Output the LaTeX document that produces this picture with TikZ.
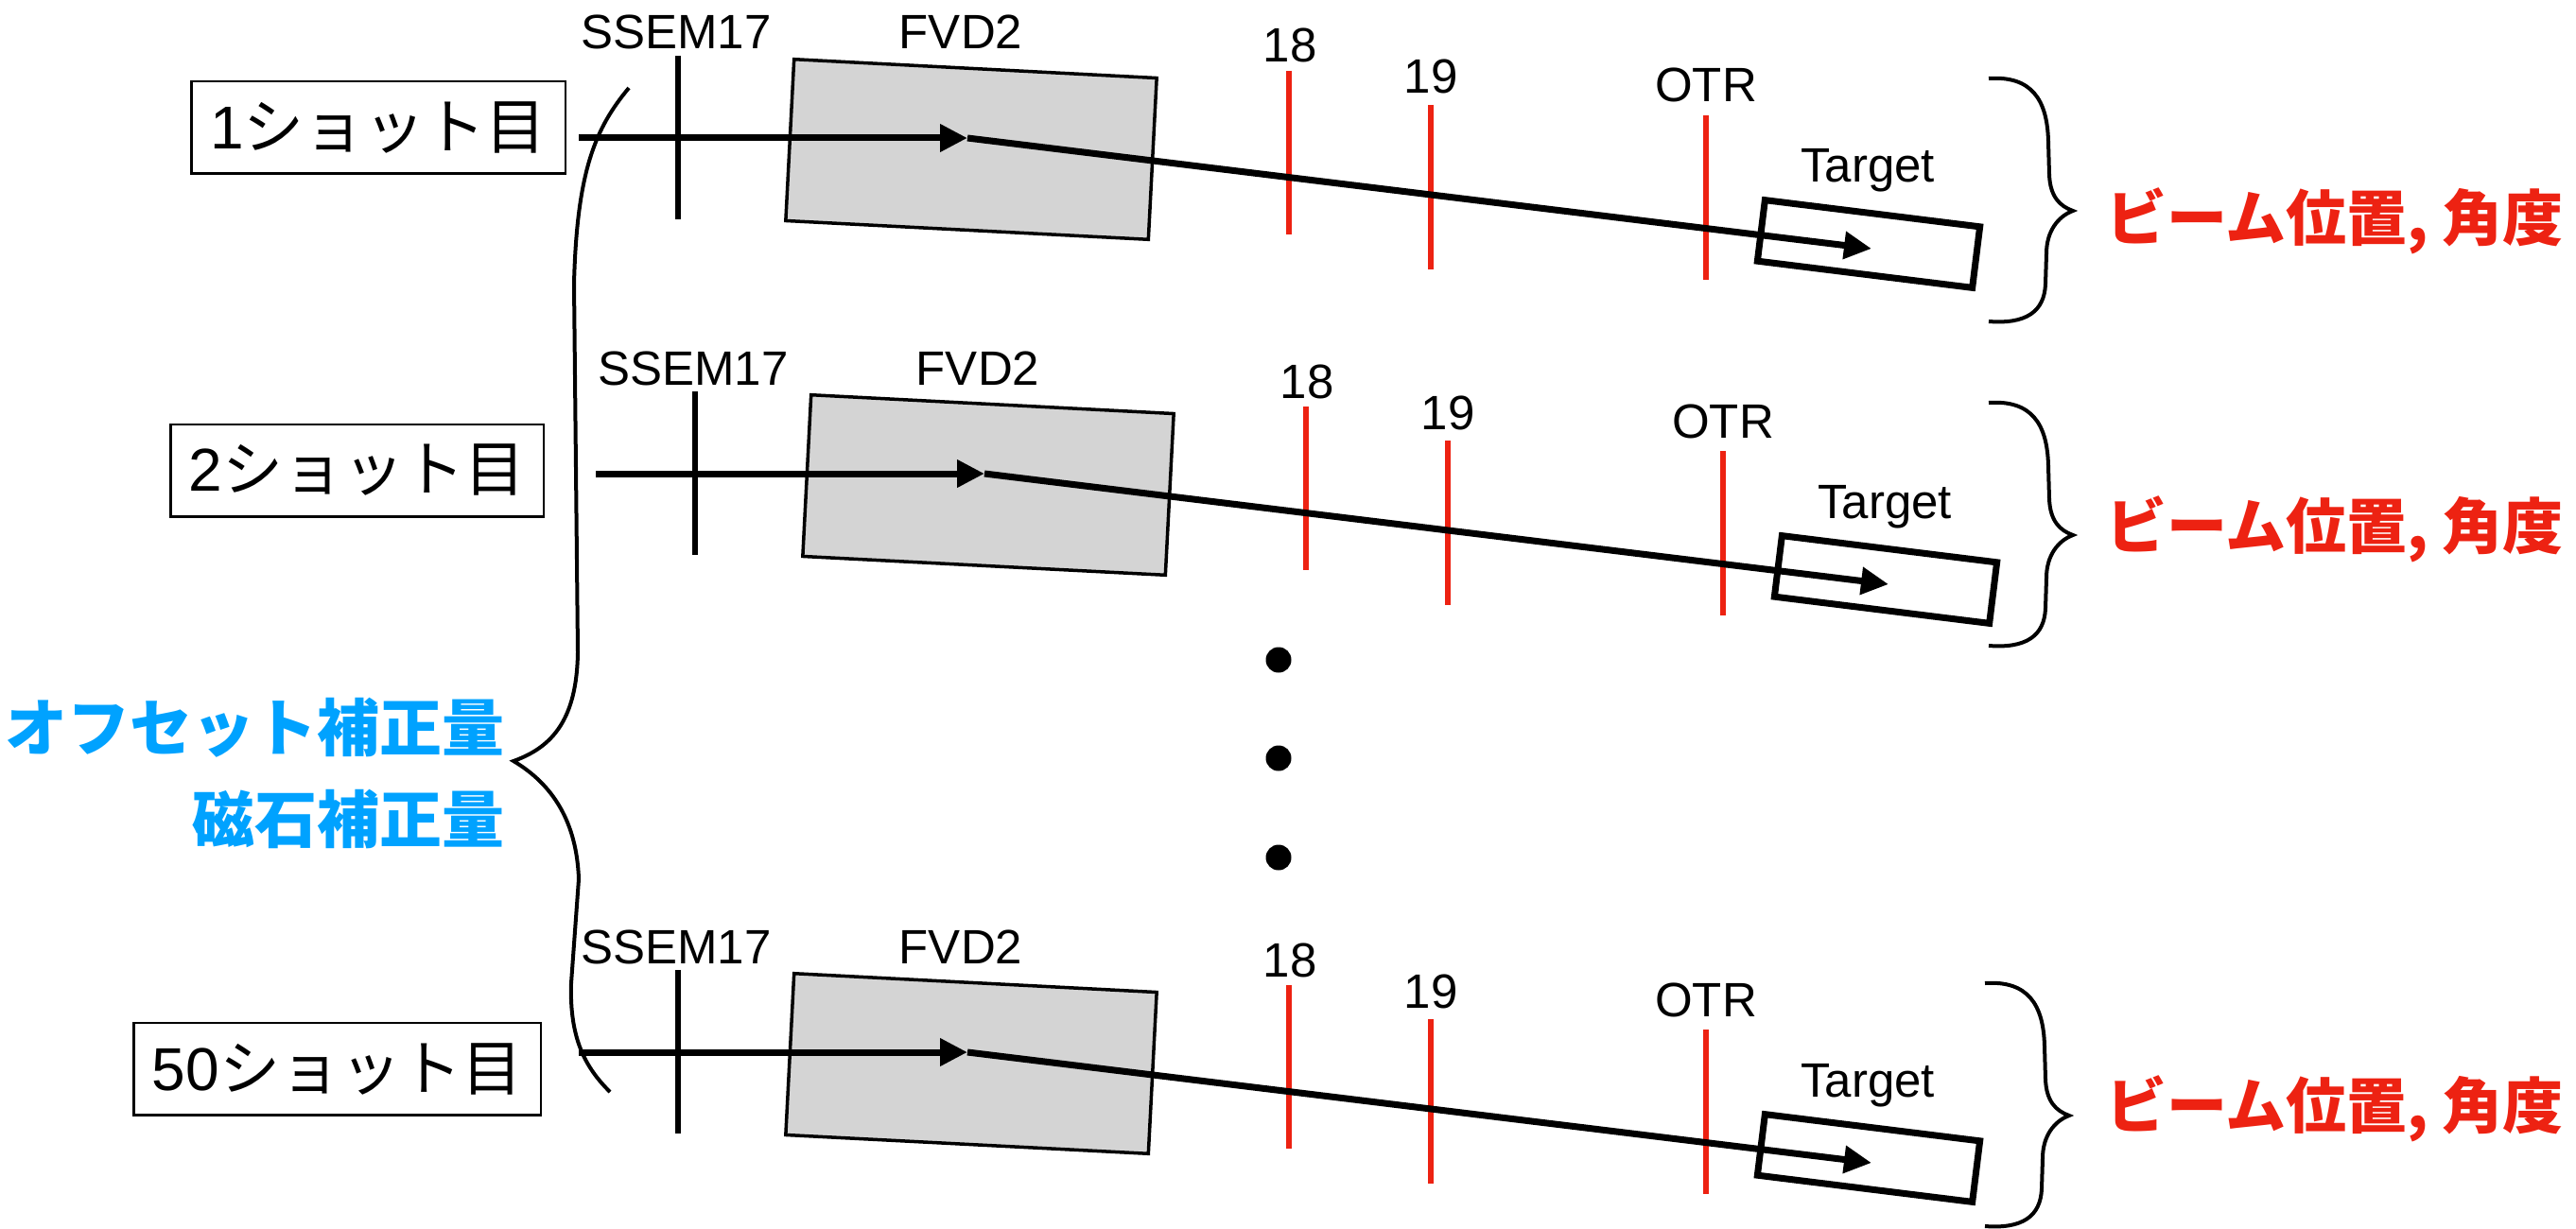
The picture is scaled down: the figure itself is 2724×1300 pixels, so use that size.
\documentclass[tikz,border=0pt]{standalone}
\usepackage{fontspec}
\setmainfont{Liberation Sans}
\newfontfamily\jpfont{Noto Sans CJK JP}
\usetikzlibrary{arrows.meta}
\definecolor{markred}{RGB}{237,34,18}
\definecolor{corrblue}{RGB}{0,162,255}
\definecolor{magnetgray}{RGB}{212,212,212}

\begin{document}
\begin{tikzpicture}[x=0.5pt,y=-0.5pt,
  lbl/.style={font=\fontsize{25.5}{30}\selectfont, anchor=base, inner sep=0pt},
  shotbox/.style={draw, line width=1.25pt, inner sep=0pt, minimum height=48.75pt,
    font=\fontsize{32}{38}\selectfont},
  monitor/.style={draw=markred, line width=3pt},
  ssemline/.style={line width=3pt},
  beam/.style={line width=3.5pt},
  beamarrow/.style={beam, -{Triangle[length=14.5pt,width=14pt]}},
  fvd/.style={draw, fill=magnetgray, line width=1.75pt, minimum width=192pt,
    minimum height=85.5pt, inner sep=0pt, rotate=-2.96},
  tgt/.style={draw, line width=3.5pt, minimum width=114.5pt, minimum height=32.5pt,
    inner sep=0pt, rotate=-7.07},
  brace/.style={line width=2pt},
  result/.style={text=markred, font=\jpfont\bfseries\fontsize{32}{38}\selectfont,
    anchor=west, inner sep=0pt},
  corr/.style={text=corrblue, font=\jpfont\bfseries\fontsize{33}{40}\selectfont,
    anchor=east, inner sep=0pt},
  dot/.style={circle, fill, inner sep=0pt, minimum size=13.5pt},
]
\useasboundingbox (0,0) rectangle (2724,1300);

% one beam line per shot
\foreach \i/\sx/\sy in {1/0/0,2/18/355,3/0/967}{
  \begin{scope}[shift={(\sx,\sy)}]
    % SSEM17 screen
    \coordinate (ssemtop\i) at (717,59);
    \coordinate (ssembot\i) at (717,232);
    \draw[ssemline] (ssemtop\i) -- (ssembot\i);
    \node[lbl] (ssem\i) at (715,52) {SSEM17};
    % FVD2 magnet
    \node[fvd] (fvd\i) at (1027,158) {};
    \node[lbl] (fvdlbl\i) at (1016,52) {FVD2};
    % profile monitors
    \draw[monitor] (1362.5,75) -- (1362.5,248);
    \draw[monitor] (1513,111) -- (1513,285);
    \draw[monitor] (1804,122) -- (1804,296);
    \node[lbl] (m18\i) at (1364,66) {18};
    \node[lbl] (m19\i) at (1513,99) {19};
    \node[lbl] (otr\i) at (1804,108) {OTR};
    % target
    \node[tgt] (tgt\i) at (1976,258) {};
    \node[lbl] (tgtlbl\i) at (1975,193) {Target};
    % beam trajectory
    \coordinate (in\i) at (612,146);
    \coordinate (kink\i) at (1023,146);
    \coordinate (hit\i) at (1979,263);
    \draw[beamarrow] (in\i) -- (kink\i);
    \draw[beamarrow] (kink\i) -- (hit\i);
  \end{scope}
}

% shot labels
\node[shotbox, minimum width=197.75pt] (shot1) at (400,135) {1\jpfont ショット目};
\node[shotbox, minimum width=197.25pt] (shot2) at (377.5,497.5) {2\jpfont ショット目};
\node[shotbox, minimum width=215.25pt] (shot50) at (356.5,1130.5) {50\jpfont ショット目};

% remaining shots
\node[dot] (dota) at (1352,698) {};
\node[dot] (dotb) at (1352,802) {};
\node[dot] (dotc) at (1352,907) {};

% large brace gathering all shots
\draw[brace] (665,93) .. controls (630,135) and (610,180) .. (607,300)
  -- (611,690) .. controls (610,760) and (585,790) .. (543,805)
  .. controls (585,830) and (610,870) .. (612,930)
  -- (604,1040) .. controls (602,1100) and (620,1130) .. (645,1155);
\node[corr] (offset) at (534,770) {オフセット補正量};
\node[corr] (magnet) at (534,867) {磁石補正量};

% per-shot result braces
\foreach \j/\bx/\by/\ty in {1/0/0/234,2/0/343/560,3/-4/957/1173}{
  \begin{scope}[shift={(\bx,\by)}]
    \draw[brace] (2103,83) .. controls (2148,80) and (2165,105) .. (2166,150)
      -- (2167,185) .. controls (2168,208) and (2178,218) .. (2192,223)
      .. controls (2176,229) and (2164,245) .. (2164,268)
      -- (2163,300) .. controls (2162,330) and (2142,343) .. (2103,340);
  \end{scope}
  \node[result] (res\j) at (2227,\ty) {ビーム位置, 角度};
}
\end{tikzpicture}
\end{document}
